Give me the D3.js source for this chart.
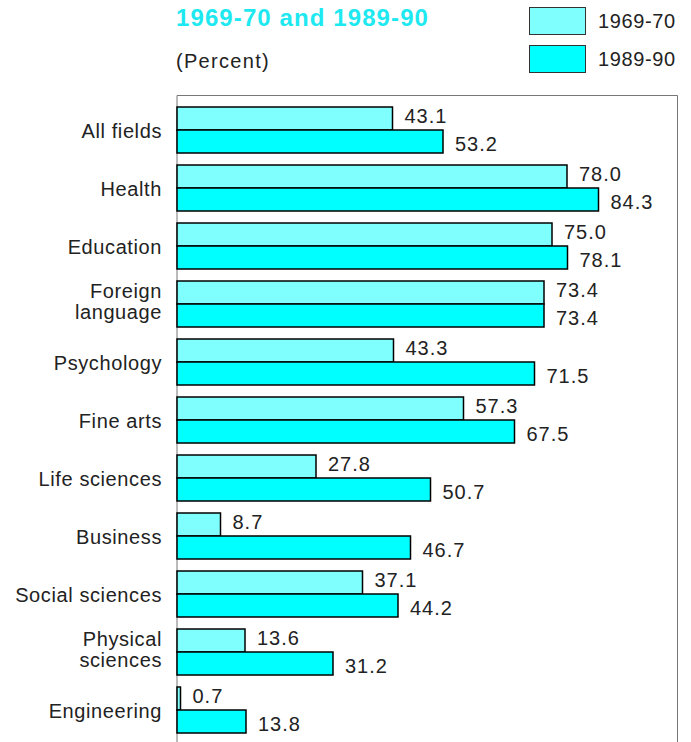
<!DOCTYPE html>
<meta charset="utf-8">
<html>
<head>
<title>Fields</title>
<script src="https://cdn.jsdelivr.net/npm/d3@7"></script>
<style>
  body{margin:0;background:#fff;}
  text{font-family:"Liberation Sans", Arial, sans-serif;fill:#222;}
</style>
</head>
<body>
<script>
var categories = [["All fields"],["Health"],["Education"],["Foreign","language"],["Psychology"],["Fine arts"],["Life sciences"],["Business"],["Social sciences"],["Physical","sciences"],["Engineering"]]
var values1970 = [43.1,78.0,75.0,73.4,43.3,57.3,27.8,8.7,37.1,13.6,0.7]
var values1990 = [53.2,84.3,78.1,73.4,71.5,67.5,50.7,46.7,44.2,31.2,13.8]
var seriesNames = ["1969-70","1989-90"]
var colors = ["#80ffff","#00ffff"]

var svg = d3.select("body").append("svg").attr("width",691).attr("height",742)

var x = d3.scaleLinear().domain([0,100]).range([177,677])
var y = d3.scaleBand().domain(d3.range(categories.length)).range([95,733])
var barH = 23, pad = 12

// frame
svg.append("path")
  .attr("d","M177,742V95.5H677.5V742")
  .attr("fill","none").attr("stroke","#777").attr("stroke-width",1)

// title
svg.append("text").attr("x",176).attr("y",26)
  .style("font-size","24px").style("font-weight","bold").style("fill","#1ee8f0")
  .style("letter-spacing","1.1px")
  .text("1969-70 and 1989-90")
svg.append("text").attr("x",176).attr("y",68)
  .style("font-size","20px").style("letter-spacing","1.3px").text("(Percent)")

// legend
seriesNames.forEach(function(s,i){
  svg.append("rect").attr("x",529.5).attr("y",7.5+i*38).attr("width",56).attr("height",27)
    .attr("fill",colors[i]).attr("stroke","#333").attr("stroke-width",1)
  svg.append("text").attr("x",598).attr("y",28+i*38).style("font-size","20px")
    .style("letter-spacing","0.6px").text(s)
})

var series = [values1970, values1990]
series.forEach(function(vals,k){
  svg.selectAll("rect.s"+k).data(vals).enter().append("rect")
    .attr("class","s"+k)
    .attr("x",x(0))
    .attr("y",function(d,i){return y(i)+pad+k*barH})
    .attr("width",function(d){return x(d)-x(0)})
    .attr("height",barH)
    .attr("fill",colors[k]).attr("stroke","#000").attr("stroke-width",1.5)
  svg.selectAll("text.v"+k).data(vals).enter().append("text")
    .attr("class","v"+k)
    .attr("x",function(d){return x(d)+12})
    .attr("y",function(d,i){return y(i)+pad+k*barH+barH/2+(k==0?4:9)})
    .style("font-size","20px").style("letter-spacing","1px")
    .text(function(d){return d.toFixed(1)})
})

// category labels
svg.selectAll("text.cat").data(categories).enter().append("text")
  .attr("class","cat")
  .attr("text-anchor","end")
  .attr("x",162)
  .attr("y",function(d,i){var c=y(i)+pad+barH; return c+8-(d.length-1)*14.5})
  .style("font-size","20px").style("letter-spacing","0.6px")
  .each(function(d){
    var t=d3.select(this)
    d.forEach(function(line,j){
      t.append("tspan").attr("x",162).attr("dy",j==0?0:21).text(line)
    })
  })
</script>
</body>
</html>
